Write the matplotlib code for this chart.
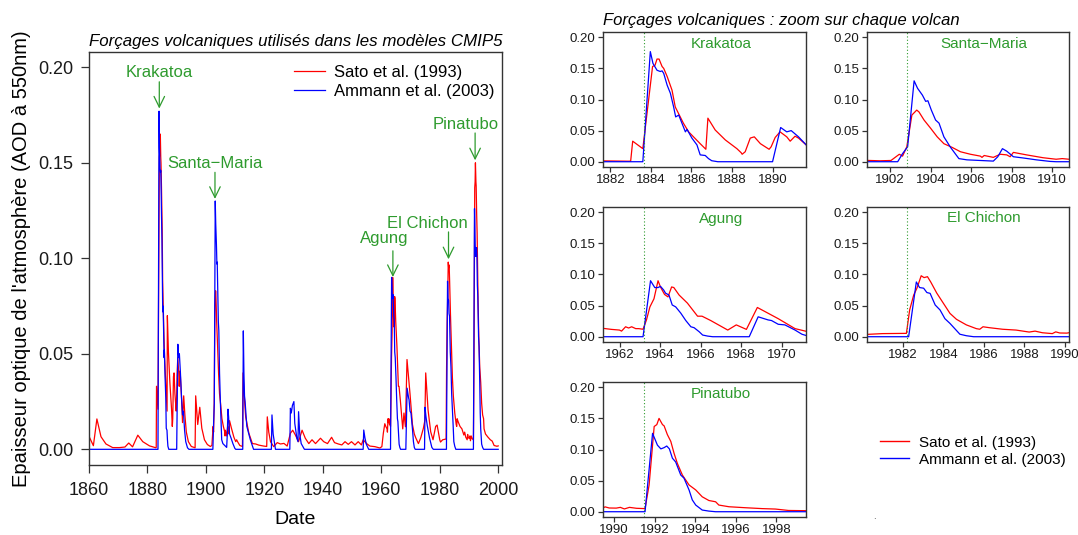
import matplotlib

matplotlib.use("Agg")

import matplotlib.pyplot as plt  # noqa: E402
from matplotlib.lines import Line2D  # noqa: E402

plt.rcParams["font.family"] = ["Liberation Sans", "DejaVu Sans"]

# --- data (year, AOD at 550 nm) --------------------------------------------
SATO_YEAR = [
    1860.0, 1861.5, 1862.7, 1864.1, 1865.8, 1868.1, 1870.4, 1872.3, 1873.6, 1874.9,
    1876.7, 1878.4, 1880.7, 1882.9, 1883.0, 1883.1, 1883.6, 1884.08, 1884.2, 1884.3,
    1884.4, 1884.55, 1884.63, 1884.8, 1885.04, 1885.2, 1885.6, 1885.86, 1886.1, 1886.43,
    1886.71, 1886.81, 1887.17, 1887.58, 1887.67, 1888.24, 1888.45, 1888.5, 1888.65, 1888.9,
    1889.1, 1889.4, 1889.83, 1889.93, 1890.13, 1890.37, 1890.7, 1890.87, 1891.11, 1891.28,
    1891.66, 1892.0, 1892.4, 1892.8, 1893.3, 1894.0, 1895.0, 1896.3, 1896.5, 1897.2,
    1897.9, 1898.6, 1899.5, 1900.5, 1901.5, 1902.05, 1902.46, 1902.62, 1902.83, 1903.08,
    1903.32, 1903.43, 1903.68, 1904.0, 1904.33, 1904.66, 1905.07, 1905.48, 1905.97, 1906.46,
    1906.54, 1906.65, 1907.1, 1907.44, 1907.76, 1907.93, 1908.09, 1908.74, 1909.56, 1910.2,
    1910.5, 1910.83, 1911.6, 1912.5, 1912.7, 1913.2, 1913.6, 1914.7, 1915.9, 1917.0,
    1918.1, 1919.8, 1920.8, 1921.0, 1921.5, 1922.1, 1923.2, 1924.4, 1925.5, 1926.7,
    1927.8, 1928.9, 1929.7, 1930.6, 1931.7, 1932.9, 1934.0, 1935.2, 1936.3, 1937.5,
    1939.2, 1940.3, 1941.6, 1943.0, 1944.0, 1945.3, 1946.5, 1947.6, 1948.7, 1949.8,
    1951.0, 1952.1, 1953.2, 1953.8, 1954.9, 1956.1, 1957.8, 1959.5, 1960.2, 1960.7,
    1961.2, 1961.6, 1962.0, 1962.1, 1962.3, 1962.45, 1962.6, 1962.8, 1962.95, 1963.16,
    1963.33, 1963.5, 1963.7, 1963.9, 1964.02, 1964.22, 1964.39, 1964.57, 1964.68, 1964.94,
    1965.35, 1965.85, 1966.07, 1966.5, 1967.34, 1967.76, 1968.26, 1968.8, 1969.83, 1970.66,
    1971.3, 1971.8, 1972.7, 1973.5, 1974.4, 1974.9, 1975.2, 1976.0, 1976.9, 1977.7,
    1978.6, 1979.1, 1980.0, 1980.26, 1981.0, 1982.18, 1982.34, 1982.54, 1982.7, 1982.91,
    1983.05, 1983.22, 1983.38, 1983.68, 1984.0, 1984.33, 1984.65, 1985.14, 1985.63, 1985.8,
    1985.96, 1986.28, 1986.93, 1987.59, 1988.24, 1988.53, 1988.89, 1989.38, 1989.55, 1989.75,
    1990.1, 1990.3, 1990.5, 1990.75, 1991.1, 1991.52, 1991.72, 1991.97, 1992.1, 1992.21,
    1992.38, 1992.46, 1992.62, 1992.79, 1992.95, 1993.11, 1993.36, 1993.69, 1994.02, 1994.34,
    1994.67, 1995.0, 1995.16, 1995.66, 1996.48, 1997.3, 1997.95, 1998.6, 1999.56, 2000.0,
]
SATO_AOD = [
    0.0068, 0.0019, 0.0159, 0.0066, 0.0028, 0.0009, 0.0009, 0.0012, 0.0033, 0.0013,
    0.0074, 0.0040, 0.0018, 0.0008, 0.0010, 0.033, 0.021, 0.153, 0.155, 0.165,
    0.165, 0.153, 0.150, 0.137, 0.115, 0.088, 0.062, 0.048, 0.040, 0.029,
    0.020, 0.070, 0.051, 0.038, 0.035, 0.021, 0.0145, 0.012, 0.016, 0.038,
    0.040, 0.029, 0.020, 0.024, 0.039, 0.048, 0.040, 0.033, 0.041, 0.038,
    0.027, 0.014, 0.028, 0.018, 0.009, 0.004, 0.0015, 0.0008, 0.028, 0.013,
    0.022, 0.011, 0.005, 0.0025, 0.0015, 0.002, 0.012, 0.009, 0.024, 0.075,
    0.083, 0.080, 0.067, 0.054, 0.040, 0.029, 0.023, 0.016, 0.012, 0.009,
    0.007, 0.010, 0.007, 0.012, 0.011, 0.008, 0.015, 0.011, 0.0064, 0.004,
    0.005, 0.004, 0.002, 0.0015, 0.040, 0.026, 0.017, 0.0084, 0.003, 0.0028,
    0.0022, 0.0017, 0.0015, 0.017, 0.009, 0.004, 0.0014, 0.0035, 0.0028, 0.0031,
    0.0017, 0.0084, 0.010, 0.0075, 0.004, 0.010, 0.0058, 0.003, 0.005, 0.003,
    0.0058, 0.004, 0.003, 0.0063, 0.0035, 0.0028, 0.0023, 0.0040, 0.0026, 0.0040,
    0.0023, 0.0040, 0.0023, 0.0050, 0.0031, 0.0017, 0.0014, 0.0007, 0.0014, 0.0084,
    0.0134, 0.0118, 0.0107, 0.009, 0.016, 0.014, 0.016, 0.013, 0.013, 0.012,
    0.027, 0.048, 0.061, 0.090, 0.080, 0.068, 0.064, 0.080, 0.079, 0.067,
    0.054, 0.033, 0.033, 0.026, 0.0107, 0.019, 0.0118, 0.047, 0.029, 0.013,
    0.008, 0.006, 0.003, 0.006, 0.011, 0.015, 0.040, 0.0206, 0.0092, 0.005,
    0.012, 0.0127, 0.005, 0.0038, 0.005, 0.0054, 0.043, 0.067, 0.078, 0.098,
    0.095, 0.0965, 0.088, 0.070, 0.054, 0.0375, 0.028, 0.019, 0.013, 0.012,
    0.016, 0.0145, 0.012, 0.0107, 0.0075, 0.009, 0.0064, 0.005, 0.0078, 0.006,
    0.0058, 0.007, 0.0045, 0.007, 0.0055, 0.005, 0.043, 0.137, 0.140, 0.150,
    0.140, 0.138, 0.124, 0.113, 0.094, 0.078, 0.059, 0.043, 0.035, 0.024,
    0.018, 0.016, 0.0107, 0.008, 0.0064, 0.005, 0.0043, 0.002, 0.0016, 0.0018,
]

AMMANN_YEAR = [
    1860.0, 1883.6, 1883.97, 1884.1, 1884.3, 1884.46, 1884.55, 1884.63, 1884.8, 1884.96,
    1885.12, 1885.22, 1885.37, 1885.53, 1885.7, 1885.78, 1886.02, 1886.27, 1886.43, 1886.68,
    1886.84, 1887.0, 1887.3, 1890.0, 1890.4, 1890.7, 1890.92, 1891.28, 1891.66, 1892.0,
    1892.3, 1892.7, 1893.1, 1893.7, 1894.2, 1902.38, 1902.62, 1902.87, 1903.19, 1903.36,
    1903.6, 1903.76, 1903.87, 1904.04, 1904.25, 1904.42, 1904.66, 1904.99, 1905.4, 1905.8,
    1907.1, 1907.32, 1907.55, 1907.76, 1908.09, 1908.58, 1909.23, 1909.9, 1910.2, 1912.6,
    1912.8, 1913.0, 1913.2, 1913.4, 1914.0, 1915.2, 1916.3, 1922.4, 1922.6, 1923.0,
    1923.8, 1928.7, 1928.9, 1929.2, 1929.6, 1930.1, 1930.4, 1931.1, 1931.5, 1931.7,
    1932.1, 1932.6, 1933.7, 1953.8, 1954.0, 1954.4, 1954.9, 1955.7, 1963.16, 1963.53,
    1963.74, 1963.9, 1964.02, 1964.18, 1964.27, 1964.44, 1964.6, 1964.77, 1965.02, 1965.27,
    1965.52, 1965.68, 1965.93, 1966.1, 1966.35, 1966.6, 1968.4, 1968.84, 1969.33, 1969.5,
    1969.83, 1970.16, 1970.66, 1971.0, 1971.3, 1971.6, 1974.8, 1974.95, 1975.3, 1975.7,
    1976.5, 1977.3, 1977.8, 1982.29, 1982.67, 1982.83, 1983.03, 1983.19, 1983.35, 1983.6,
    1983.84, 1984.08, 1984.33, 1984.57, 1984.82, 1985.14, 1985.5, 1991.52, 1991.89, 1992.13,
    1992.3, 1992.46, 1992.59, 1992.72, 1992.87, 1993.03, 1993.28, 1993.44, 1993.69, 1993.85,
    1994.02, 1994.34, 1994.67, 1995.0, 2000.0,
]
AMMANN_AOD = [
    0.0, 0.0, 0.177, 0.158, 0.147, 0.145, 0.146, 0.142, 0.123, 0.110,
    0.088, 0.072, 0.075, 0.062, 0.048, 0.052, 0.038, 0.027, 0.011, 0.010,
    0.005, 0.0016, 0.0, 0.0, 0.055, 0.048, 0.050, 0.040, 0.027, 0.018,
    0.020, 0.010, 0.004, 0.0008, 0.0, 0.0, 0.013, 0.024, 0.130, 0.118,
    0.107, 0.097, 0.098, 0.083, 0.067, 0.062, 0.040, 0.023, 0.005, 0.003,
    0.001, 0.008, 0.021, 0.017, 0.008, 0.006, 0.003, 0.0005, 0.0, 0.0,
    0.062, 0.040, 0.028, 0.025, 0.012, 0.005, 0.0, 0.0, 0.018, 0.008,
    0.0, 0.0, 0.0215, 0.019, 0.023, 0.025, 0.0136, 0.006, 0.004, 0.0197,
    0.008, 0.003, 0.0, 0.0, 0.0101, 0.006, 0.0026, 0.0, 0.0, 0.090,
    0.079, 0.079, 0.081, 0.075, 0.070, 0.067, 0.051, 0.048, 0.038, 0.026,
    0.016, 0.0145, 0.008, 0.0027, 0.001, 0.0, 0.0, 0.032, 0.027, 0.026,
    0.020, 0.019, 0.0107, 0.004, 0.001, 0.0, 0.0, 0.022, 0.017, 0.0127,
    0.006, 0.001, 0.0, 0.0, 0.088, 0.079, 0.078, 0.071, 0.0697, 0.051,
    0.043, 0.029, 0.0214, 0.013, 0.004, 0.0016, 0.0, 0.0, 0.126, 0.107,
    0.101, 0.103, 0.1056, 0.101, 0.086, 0.080, 0.059, 0.054, 0.035, 0.019,
    0.0107, 0.0027, 0.001, 0.0, 0.0,
]

VOLCANOES = ["Krakatoa", "Santa\u2212Maria", "Agung", "El Chichon", "Pinatubo"]
ERUPTIONS = [1883.65, 1902.85, 1963.2, 1982.22, 1991.46]
LABELS = ["Sato et al. (1993)", "Ammann et al. (2003)"]

RED = "#FF0000"
BLUE = "#0000FF"
GREEN = "#2E9B2E"
FRAME = "#333333"

W, H = 1078, 535


def px_axes(fig, left, top, right, bottom):
    return fig.add_axes([left / W, 1 - bottom / H, (right - left) / W, (bottom - top) / H])


def style_axes(ax, fs, ticklen):
    for sp in ax.spines.values():
        sp.set_color(FRAME)
        sp.set_linewidth(1.0)
    ax.tick_params(direction="out", length=ticklen, width=0.9, color=FRAME,
                   labelsize=fs, labelcolor="#1a1a1a", pad=2)


def plot():
    fig = plt.figure(figsize=(W / 100, H / 100), dpi=100)

    # ---- main panel ----
    ax = px_axes(fig, 89, 52, 502, 464.6)
    ax.plot(SATO_YEAR, SATO_AOD, color=RED, lw=0.9, label=LABELS[0])
    ax.plot(AMMANN_YEAR, AMMANN_AOD, color=BLUE, lw=0.9, label=LABELS[1])
    ax.set_xlim(1860, 2001.3)
    ax.set_ylim(-0.008, 0.208)
    ax.set_xticks(range(1860, 2001, 20))
    ax.set_yticks([0.0, 0.05, 0.10, 0.15, 0.20])
    ax.set_yticklabels(["0.00", "0.05", "0.10", "0.15", "0.20"])
    style_axes(ax, 13, 5.5)
    ax.tick_params(axis="x", pad=7)
    ax.tick_params(axis="y", pad=6)
    ax.set_xlabel("Date", fontsize=14, labelpad=9)
    ax.set_ylabel("Epaisseur optique de l'atmosphère (AOD à 550nm)", fontsize=14.5, labelpad=5)
    ax.set_title("Forçages volcaniques utilisés dans les modèles CMIP5",
                 fontsize=12.2, style="italic", pad=4)
    ax.legend(loc="upper left", bbox_to_anchor=(286 / W, 1 - 57 / H),
              bbox_transform=fig.transFigure, frameon=False, fontsize=12,
              handlelength=1.85, handletextpad=0.5, labelspacing=0.2, borderpad=0)

    # label text position and arrow (x, text_y, arrow_x, arrow_top, arrow_tip)
    annots = {
        "Krakatoa": (1884.05, 0.1974, 1884.05, 0.1924, 0.1784),
        "Santa\u2212Maria": (1903.1, 0.1498, 1903.1, 0.145, 0.1311),
        "Agung": (1960.9, 0.1102, 1963.97, 0.1039, 0.0902),
        "El Chichon": (1975.8, 0.1182, 1983.0, 0.1138, 0.0995),
        "Pinatubo": (1988.9, 0.170, 1992.1, 0.1656, 0.1513),
    }
    for name in VOLCANOES:
        tx, ty, axx, a0, a1 = annots[name]
        ax.text(tx, ty, name, ha="center", va="center", color=GREEN, fontsize=12)
        ax.annotate("", xy=(axx, a1), xytext=(axx, a0),
                    arrowprops=dict(arrowstyle="->,head_length=0.55,head_width=0.27",
                                    color=GREEN, lw=0.9, mutation_scale=14,
                                    shrinkA=0, shrinkB=0))

    # ---- zoom panels ----
    boxes = [
        (603.3, 32.3, 806, 166.7),
        (866.7, 32.3, 1069.3, 166.7),
        (603.3, 207.3, 806, 341.7),
        (866.7, 207.3, 1069.3, 341.7),
        (603.3, 382.3, 806, 516.7),
    ]
    for name, year, box in zip(VOLCANOES, ERUPTIONS, boxes):
        sax = px_axes(fig, *box)
        sax.plot(SATO_YEAR, SATO_AOD, color=RED, lw=0.9)
        sax.plot(AMMANN_YEAR, AMMANN_AOD, color=BLUE, lw=0.9)
        sax.axvline(year, color=GREEN, lw=0.8, ls=(0, (1, 2)))
        x0 = year - 2
        sax.set_xlim(x0, year + 8)
        sax.set_ylim(-0.008, 0.208)
        first = int(x0) + (int(x0) % 2)
        if first < x0:
            first += 2
        sax.set_xticks(range(first, int(year + 8) + 1, 2))
        sax.set_yticks([0.0, 0.05, 0.10, 0.15, 0.20])
        sax.set_yticklabels(["0.00", "0.05", "0.10", "0.15", "0.20"])
        style_axes(sax, 9.5, 3.5)
        sax.text(year + 3.8, 0.19, name, ha="center", va="center", color=GREEN, fontsize=11)

    fig.text(603 / W, 1 - 20 / H, "Forçages volcaniques : zoom sur chaque volcan",
             fontsize=12, style="italic", ha="left", va="center")

    handles = [Line2D([], [], color=RED, lw=1.0), Line2D([], [], color=BLUE, lw=1.0)]
    fig.legend(handles, LABELS, loc="upper left", bbox_to_anchor=(872 / W, 1 - 428 / H),
               frameon=False, fontsize=11, handlelength=1.95, handletextpad=0.6,
               labelspacing=0.2, borderpad=0)
    fig.text(874 / W, 1 - 519 / H, ".", fontsize=7, color="#444444", ha="center")

    fig.savefig("out.png", dpi=100)
    plt.close(fig)


if __name__ == "__main__":
    assert len(SATO_YEAR) == len(SATO_AOD)
    assert len(AMMANN_YEAR) == len(AMMANN_AOD)
    plot()
